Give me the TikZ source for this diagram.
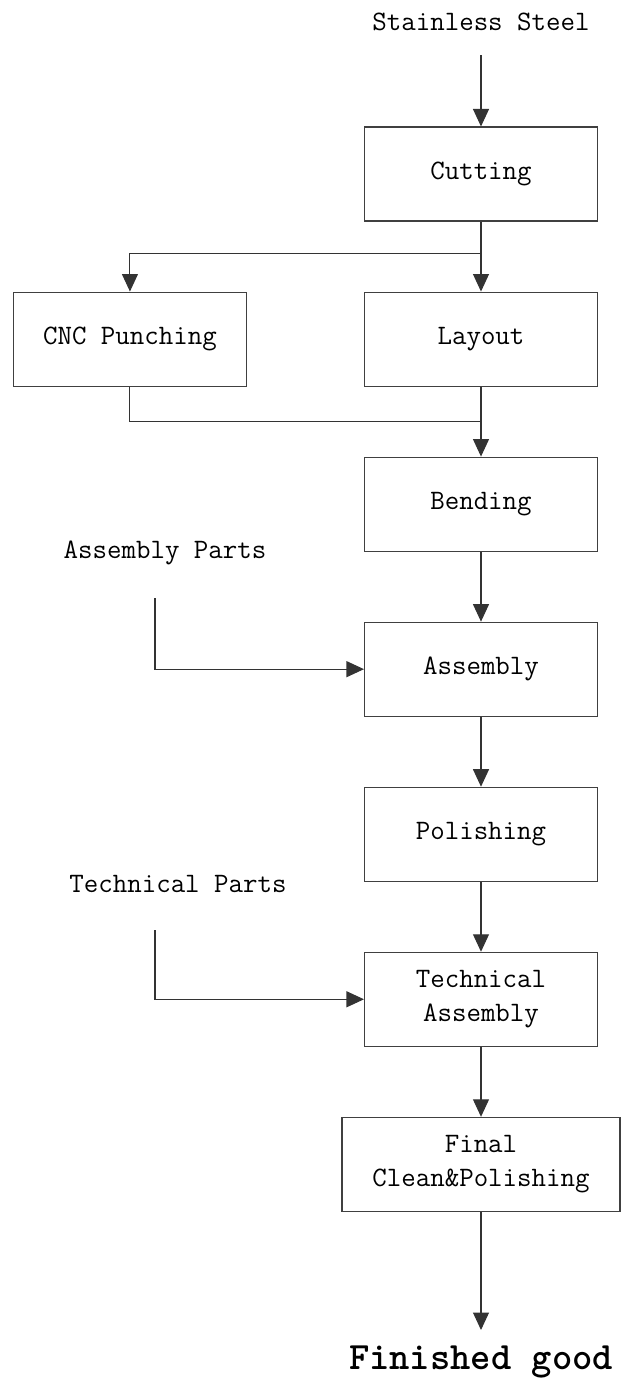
\documentclass[tikz,border=0pt]{standalone}
\usepackage{fontspec}
\usetikzlibrary{arrows.meta,positioning}

\begin{document}
\begin{tikzpicture}[
  node distance=14.0mm,
  line width=0.6pt, draw=black!80,
  >={Triangle[length=3.5mm,width=3.2mm]},
  stepbox/.style={draw=black!75, align=center,
              minimum width=46.6mm, minimum height=18.8mm,
              font=\ttfamily\fontsize{16}{19.5}\selectfont},
  lbl/.style={font=\ttfamily\fontsize{16}{19.5}\selectfont}]
\useasboundingbox (0,0) rectangle (12.56,-27.68);
\node[lbl] (steel) at (9.62,-0.44) {Stainless Steel};
\node[stepbox] (cut) at (9.62,-3.48) {Cutting};
\node[stepbox, below=of cut] (layout) {Layout};
\node[stepbox, left=23.4mm of layout] (cnc) {CNC Punching};
\node[stepbox, below=of layout] (bend) {Bending};
\node[stepbox, below=of bend] (asm) {Assembly};
\node[stepbox, below=of asm] (pol) {Polishing};
\node[stepbox, below=of pol] (tech) {Technical\\Assembly};
\node[stepbox, below=of tech, minimum width=55.6mm] (final) {Final\\Clean\&Polishing};
\node[lbl] (aparts) at (3.30,-11.06) {Assembly Parts};
\node[lbl] (tparts) at (3.56,-17.68) {Technical Parts};
\node[font=\ttfamily\bfseries\fontsize{22}{26}\selectfont] (done) at (9.62,-27.24) {Finished good};
\coordinate (steelin) at (9.62,-1.10);
\coordinate[below=6.4mm of cut] (split);
\coordinate[below=7mm of layout] (merge);
\coordinate (apin) at (3.10,-11.96);
\coordinate (tpin) at (3.10,-18.60);
\coordinate (out) at (9.62,-26.60);
\draw[->] (steelin) -- (cut);
\draw[->] (cut) -- (layout);
\draw[->] (split) -| (cnc);
\draw (cnc) |- (merge);
\draw[->] (layout) -- (bend);
\draw[->] (bend) -- (asm);
\draw[->] (apin) |- (asm);
\draw[->] (asm) -- (pol);
\draw[->] (pol) -- (tech);
\draw[->] (tpin) |- (tech);
\draw[->] (tech) -- (final);
\draw[->] (final) -- (out);
\end{tikzpicture}
\end{document}
